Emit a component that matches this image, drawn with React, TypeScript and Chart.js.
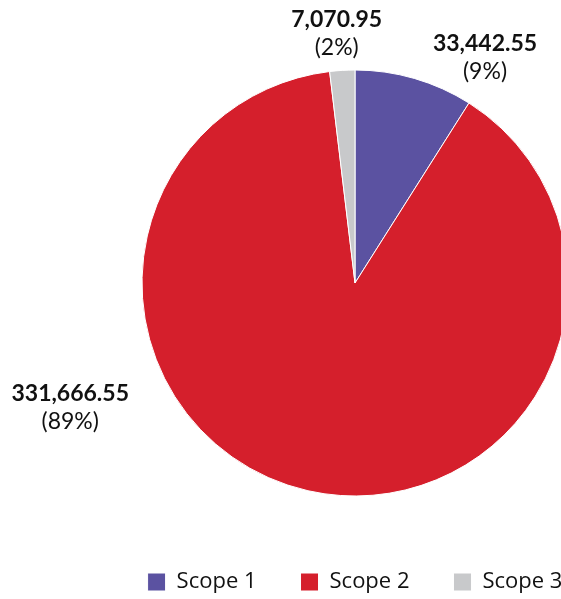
import React, { useEffect, useRef } from "react";
import { Chart, registerables } from "chart.js";

Chart.register(...registerables);

const categories = ["Scope 1", "Scope 2", "Scope 3"];
const values = [33442.55, 331666.55, 7070.95];
const colors = ["#5b52a1", "#d51f2c", "#c8c9cb"];

// label placement: polar angle (deg, canvas convention) and distance beyond the pie edge
const labelAngles = [-60, 156.3, -94.2];
const labelOffsets = [47, 98, 37];

const FONT = "Lato";
const LEGEND_FONT = "'Open Sans'";
const LEGEND_PAD = 44;

const labelPlugin = {
  id: "outsideLabels",
  afterDraw(chart: any) {
    const ctx = chart.ctx;
    const meta = chart.getDatasetMeta(0);
    const data = chart.data.datasets[0].data as number[];
    const total = data.reduce((a, b) => a + b, 0);
    ctx.save();
    ctx.fillStyle = "#111111";
    ctx.textAlign = "center";
    ctx.textBaseline = "middle";
    meta.data.forEach((arc: any, i: number) => {
      const { x, y, outerRadius } = arc.getProps(["x", "y", "outerRadius"], true);
      const a = (labelAngles[i] * Math.PI) / 180;
      const d = outerRadius + labelOffsets[i];
      const px = x + Math.cos(a) * d;
      const py = y + Math.sin(a) * d;
      const v = data[i].toLocaleString("en-US", { minimumFractionDigits: 2, maximumFractionDigits: 2 });
      const pct = Math.round((data[i] / total) * 100) + "%";
      ctx.font = `bold 23px ${FONT}`;
      ctx.fillText(v, px, py - 14);
      ctx.font = `23px ${FONT}`;
      ctx.fillText(`(${pct})`, px, py + 14);
    });
    ctx.restore();
  },
};

export default function App() {
  const ref = useRef<HTMLCanvasElement>(null);
  useEffect(() => {
    if (!ref.current) return;
    const chart = new Chart(ref.current, {
      type: "pie",
      data: {
        labels: categories,
        datasets: [
          {
            data: values,
            backgroundColor: colors,
            borderColor: "#ffffff",
            borderWidth: 1,
          },
        ],
      },
      options: {
        responsive: false,
        animation: false,
        devicePixelRatio: 1,
        radius: 213,
        layout: { padding: { top: LEGEND_PAD - 13, bottom: 0, left: 0, right: 0 } },
        plugins: {
          tooltip: { enabled: false },
          legend: {
            position: "bottom",
            labels: {
              boxWidth: 18,
              boxHeight: 18,
              padding: LEGEND_PAD,
              color: "#111111",
              font: { family: LEGEND_FONT, size: 22 },
            },
          },
        },
      } as any,
      plugins: [labelPlugin],
    });
    return () => chart.destroy();
  }, []);
  return (
    <div style={{ position: "fixed", left: 0, top: 0, width: 561, height: 599, overflow: "hidden", background: "#fff" }}>
      <canvas
        ref={ref}
        width={694}
        height={595}
        style={{ position: "absolute", left: 8, top: 8, display: "block", width: 694, height: 595 }}
      />
    </div>
  );
}
